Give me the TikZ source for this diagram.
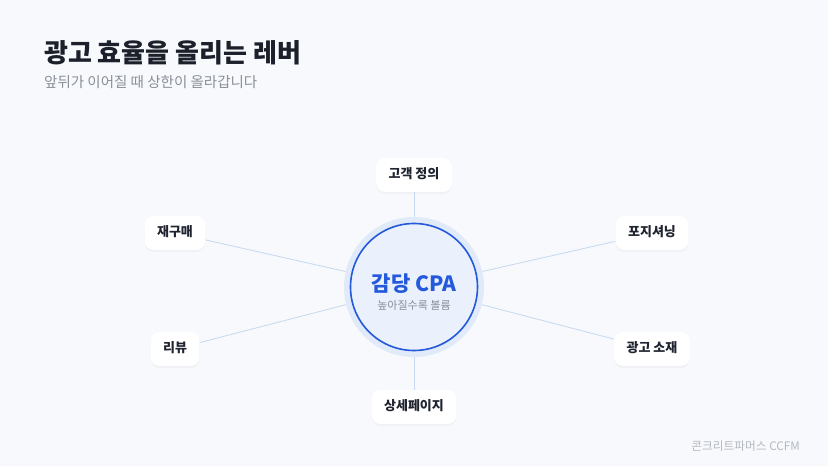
\documentclass[tikz,border=0pt]{standalone}
\usepackage{fontspec}
\setmainfont{Noto Sans CJK KR}
\usepackage{tikz}
\usetikzlibrary{shadows}
\usepackage{xcolor}

\definecolor{bgpage}{HTML}{F7F9FC}
\definecolor{titleink}{HTML}{1B202B}
\definecolor{subink}{HTML}{8A9099}
\definecolor{footink}{HTML}{B4B9C1}
\definecolor{boxink}{HTML}{1F2430}
\definecolor{cpablue}{HTML}{2459DC}
\definecolor{halo}{HTML}{E0EAF8}
\definecolor{corefill}{HTML}{EAF1FD}
\definecolor{spoke}{HTML}{C6D9F0}

\begin{document}
\begin{tikzpicture}[x=1pt,y=-1pt,
  lever/.style={fill=white, rounded corners=9pt, minimum height=34pt, inner xsep=12.5pt,
    text height=9.5pt, text depth=2.5pt, text=boxink, font=\fontsize{13}{15}\selectfont\bfseries,
    drop shadow={opacity=0.06, shadow xshift=0pt, shadow yshift=-2pt}},
  spokeline/.style={spoke, line width=0.8pt}]

\useasboundingbox[fill=bgpage] (0,0) rectangle (828,466);

\node[anchor=base west, text=titleink, inner sep=0] (title) at (44,62)
  {\fontsize{26}{30}\selectfont\bfseries 광고 효율을 올리는 레버};
\node[anchor=base west, text=subink, inner sep=0] (subtitle) at (44,87)
  {\fontsize{14.5}{17}\selectfont 앞뒤가 이어질 때 상한이 올라갑니다};

% center
\node[circle, fill=halo, minimum size=140pt, inner sep=0] (cpa) at (414,287) {};
\draw[cpablue, fill=corefill, line width=1.6pt] (cpa.center) circle [radius=63.5];
\node[text=cpablue, inner sep=0] (cpatext) at (414,284)
  {\fontsize{21}{24}\selectfont\bfseries 감당 CPA};
\node[text=subink, inner sep=0] (cpasub) at (414,305)
  {\fontsize{11}{13}\selectfont 높아질수록 볼륨};

% levers
\node[lever] (target) at (414,175) {고객 정의};
\node[lever] (rebuy) at (175,233) {재구매};
\node[lever] (position) at (652,233) {포지셔닝};
\node[lever] (review) at (175,349) {리뷰};
\node[lever] (creative) at (652,349) {광고 소재};
\node[lever] (detail) at (414,407) {상세페이지};

\begin{scope}[spokeline]
\draw (cpa) -- (target);
\draw (cpa) -- (rebuy);
\draw (cpa) -- (position);
\draw (cpa) -- (review);
\draw (cpa) -- (creative);
\draw (cpa) -- (detail);
\end{scope}

\node[anchor=base east, text=footink, inner sep=0] (footer) at (800,450)
  {\fontsize{11.7}{14}\selectfont 콘크리트파머스 CCFM};

\end{tikzpicture}
\end{document}
